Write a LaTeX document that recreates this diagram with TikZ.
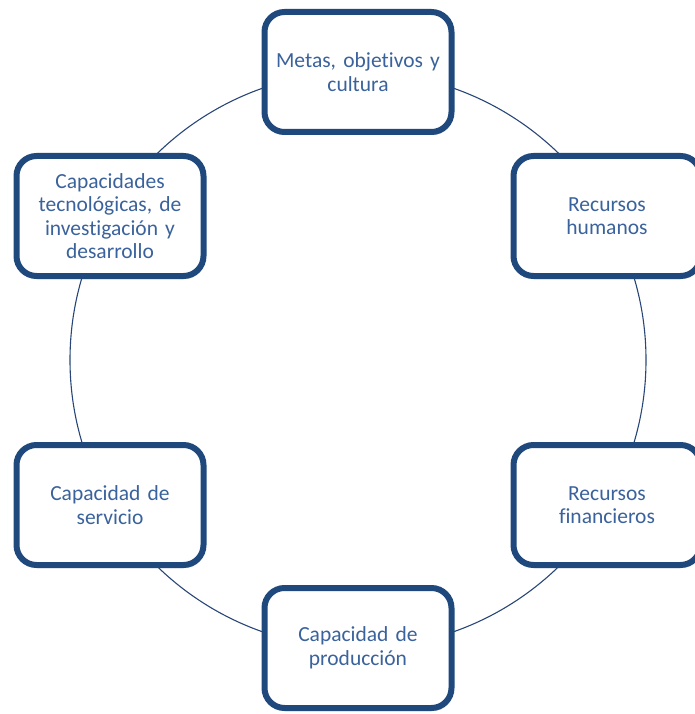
\documentclass[tikz,border=0pt]{standalone}
\usepackage{fontspec}
\setmainfont{Carlito}[Ligatures=NoCommon]
\usetikzlibrary{shadows}
\definecolor{boxline}{RGB}{31,73,125}
\definecolor{circline}{RGB}{40,70,120}
\definecolor{txt}{RGB}{58,98,156}
\tikzset{
  itembox/.style={draw=boxline, line width=6pt, rounded corners=20pt, fill=white,
    minimum width=187pt, minimum height=120pt, text width=175pt, align=center,
    font=\fontsize{21.5}{23.5}\selectfont, text=txt,
    drop shadow={shadow xshift=1.5pt, shadow yshift=-3pt, opacity=0.25, fill=black!60}},
  ring/.style={draw=circline, line width=1.1pt}
}
\begin{document}
\begin{tikzpicture}[x=1pt,y=-1pt]
\useasboundingbox (0,0) rectangle (695,714);
\begin{scope}
\clip (0,0) rectangle (695,714);
\coordinate (c) at (358,360);
\draw[ring] (c) circle[radius=288pt];
\node[itembox] (metas) at (358,72) {Metas, objetivos y\\cultura};
\node[itembox] (rh) at (607,216) {Recursos\\humanos};
\node[itembox] (rf) at (607,505) {Recursos\\financieros};
\node[itembox] (prod) at (358,648) {Capacidad de\\producción};
\node[itembox] (serv) at (110,505) {Capacidad de\\servicio};
\node[itembox] (tec) at (110,216) {Capacidades\\tecnológicas, de\\investigación y\\desarrollo};
\end{scope}
\end{tikzpicture}
\end{document}
